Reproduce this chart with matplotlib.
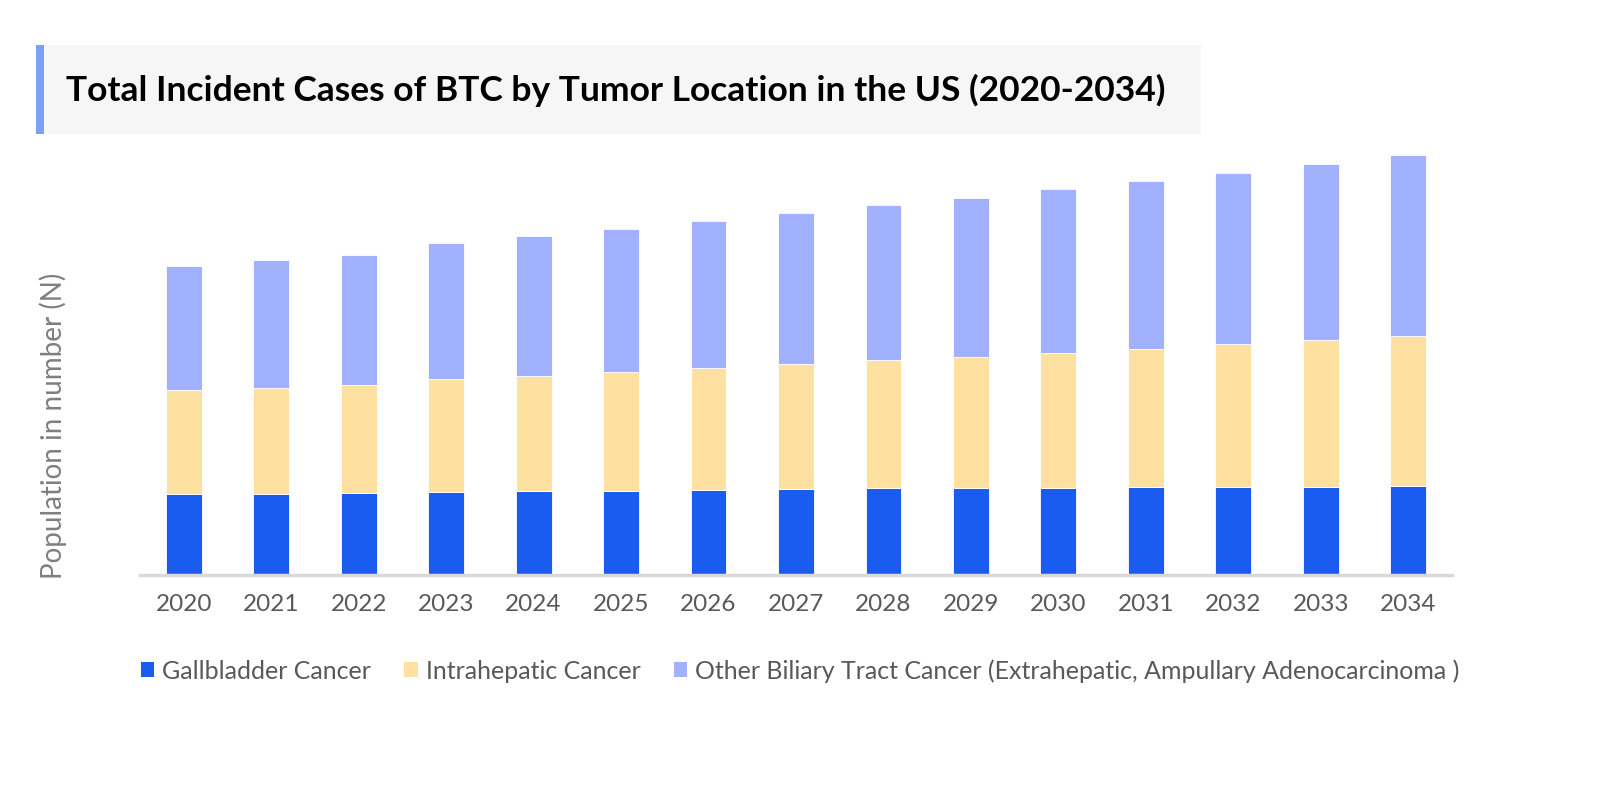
import matplotlib
matplotlib.use("Agg")
from matplotlib import pyplot as plt
from matplotlib.patches import Rectangle, Patch

# values (arbitrary units, no y scale shown)
years = [str(y) for y in range(2020, 2035)]
gallbladder = [240, 242, 243, 247, 249, 251, 253, 255, 258, 260, 260, 262, 263, 263, 265]
intrahepatic = [312, 316, 324, 338, 346, 355, 365, 375, 383, 392, 404, 414, 426, 439, 450]
other_btc = [373, 384, 391, 407, 418, 429, 440, 451, 464, 476, 489, 502, 513, 526, 540]

series_names = ['Gallbladder Cancer', 'Intrahepatic Cancer',
                'Other Biliary Tract Cancer (Extrahepatic, Ampullary Adenocarcinoma )']
colors = ['#1b5cf0', '#fee1a1', '#a1b1fd']

plt.rcParams['font.family'] = ['Lato', 'DejaVu Sans']

W, H = 1600, 796
fig = plt.figure(figsize=(W/100, H/100), dpi=100)

# title box with accent bar (pixel positions, top-left origin)
fig.patches.append(Rectangle((36/W, 1-134/H), (1201-36)/W, 89/H,
                             transform=fig.transFigure, facecolor='#f6f6f6', edgecolor='none'))
fig.patches.append(Rectangle((36/W, 1-134/H), 8/W, 89/H,
                             transform=fig.transFigure, facecolor='#7ba0f8', edgecolor='none'))
fig.text(66/W, 1-90/H, 'Total Incident Cases of BTC by Tumor Location in the US (2020-2034)',
         fontsize=25.5, fontweight='bold', color='black', va='center', ha='left')

ax = fig.add_axes([140/W, 1-574.5/H, (1452-140)/W, 431.5/H])

x = list(range(len(years)))
bottom2 = [a + b for a, b in zip(gallbladder, intrahepatic)]
ax.bar(x, gallbladder, width=0.41, color=colors[0], edgecolor='white', linewidth=0.6)
ax.bar(x, intrahepatic, width=0.41, bottom=gallbladder, color=colors[1], edgecolor='white', linewidth=0.6)
ax.bar(x, other_btc, width=0.41, bottom=bottom2, color=colors[2], edgecolor='white', linewidth=0.6)

ax.set_xlim(-0.5, len(years) - 0.5)
ax.set_ylim(0, 1292)
ax.set_xticks(x)
ax.set_xticklabels(years, fontsize=17.5, color='#595959')
ax.tick_params(axis='x', length=0, pad=14)
ax.set_yticks([])
for s in ['top', 'right', 'left']:
    ax.spines[s].set_visible(False)
ax.spines['bottom'].set_color('#d9d9d9')
ax.spines['bottom'].set_linewidth(2.5)

fig.text(53/W, 1-426/H, 'Population in number (N)', rotation=90, fontsize=20,
         color='#7f7f7f', va='center', ha='center')

handles = [Patch(facecolor=c, edgecolor='none') for c in colors]
fig.legend(handles, series_names, loc='center left', bbox_to_anchor=(118/W, 1-671/H),
           ncol=3, frameon=False, fontsize=18, handlelength=0.55, handleheight=0.55,
           handletextpad=0.31, columnspacing=1.33, labelcolor='#595959')

fig.savefig('out.png', dpi=100, facecolor='white')
